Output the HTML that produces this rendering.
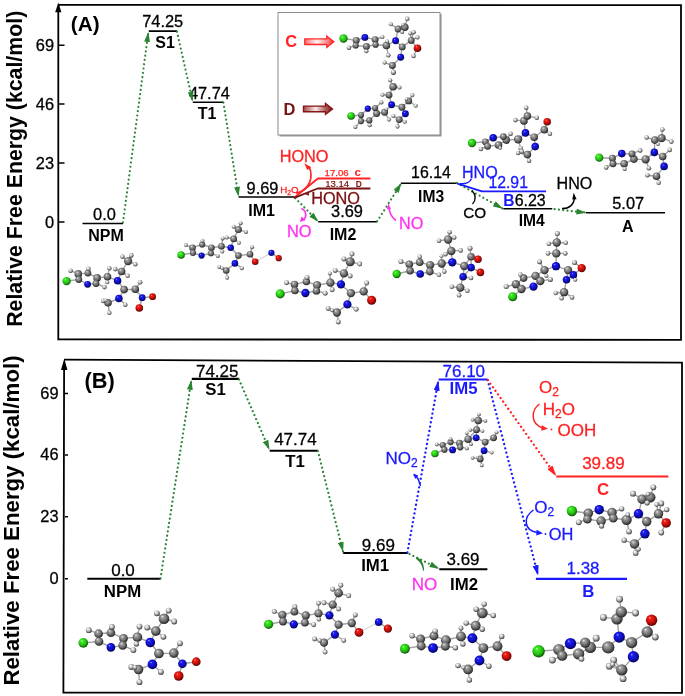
<!DOCTYPE html>
<html><head><meta charset="utf-8">
<style>
html,body{margin:0;padding:0;background:#fff;}
svg{display:block;font-family:"Liberation Sans",sans-serif;will-change:transform;}
.n{font-size:16.4px;fill:#000;}
.b{font-size:16px;font-weight:bold;fill:#000;}
#levelsB .n{font-size:17px}
#levelsB .b{font-size:16.8px}
#frameB .n{font-size:16.4px}
.lv{stroke:#000;stroke-width:1.6;fill:none;}
.gd{stroke:#2b8432;stroke-width:2.2;fill:none;stroke-dasharray:0.01 4.3;stroke-linecap:round;}
.bd{stroke:#1a1aff;stroke-width:2.3;fill:none;stroke-dasharray:0.01 4.4;stroke-linecap:round;}
.rd{stroke:#ff2222;stroke-width:2.3;fill:none;stroke-dasharray:0.01 4.4;stroke-linecap:round;}
#levelsB path{stroke-width:2.1}
</style></head>
<body>
<svg width="685" height="696" viewBox="0 0 685 696">
<defs>
<radialGradient id="gC" cx="0.46" cy="0.44" r="0.62" fx="0.34" fy="0.28"><stop offset="0" stop-color="#f6f6f6"/><stop offset="0.18" stop-color="#a8a8a8"/><stop offset="0.58" stop-color="#6c6c6c"/><stop offset="0.84" stop-color="#343434"/><stop offset="1" stop-color="#0c0c0c"/></radialGradient>
<radialGradient id="gH" cx="0.46" cy="0.44" r="0.62" fx="0.34" fy="0.28"><stop offset="0" stop-color="#ffffff"/><stop offset="0.25" stop-color="#e6e6e6"/><stop offset="0.56" stop-color="#aaaaaa"/><stop offset="0.83" stop-color="#505050"/><stop offset="1" stop-color="#1a1a1a"/></radialGradient>
<radialGradient id="gN" cx="0.46" cy="0.44" r="0.62" fx="0.34" fy="0.28"><stop offset="0" stop-color="#b0b0ff"/><stop offset="0.18" stop-color="#2020f8"/><stop offset="0.6" stop-color="#0e0ec0"/><stop offset="0.85" stop-color="#06066c"/><stop offset="1" stop-color="#000030"/></radialGradient>
<radialGradient id="gO" cx="0.46" cy="0.44" r="0.62" fx="0.34" fy="0.28"><stop offset="0" stop-color="#ffb0a8"/><stop offset="0.18" stop-color="#f62014"/><stop offset="0.6" stop-color="#c00e0a"/><stop offset="0.85" stop-color="#6c0604"/><stop offset="1" stop-color="#300000"/></radialGradient>
<radialGradient id="gL" cx="0.46" cy="0.44" r="0.62" fx="0.34" fy="0.28"><stop offset="0" stop-color="#d0ffc4"/><stop offset="0.18" stop-color="#38f01e"/><stop offset="0.6" stop-color="#26c014"/><stop offset="0.85" stop-color="#126c08"/><stop offset="1" stop-color="#063000"/></radialGradient>
<linearGradient id="arC" x1="0" y1="0" x2="1" y2="0"><stop offset="0" stop-color="#ff7070"/><stop offset="0.42" stop-color="#fff2f2"/><stop offset="0.72" stop-color="#ff9a9a"/><stop offset="1" stop-color="#ff2a2a"/></linearGradient>
<linearGradient id="arD" x1="0" y1="0" x2="1" y2="0"><stop offset="0" stop-color="#a84848"/><stop offset="0.42" stop-color="#f6eaea"/><stop offset="0.72" stop-color="#b46868"/><stop offset="1" stop-color="#7e1010"/></linearGradient>
<marker id="mg" viewBox="0 0 10 6" refX="9.5" refY="3" markerWidth="10.3" markerHeight="5.9" markerUnits="userSpaceOnUse" orient="auto"><path d="M0,0L10,3L0,6z" fill="#2b8432"/></marker>
<marker id="mb" viewBox="0 0 10 6" refX="9.5" refY="3" markerWidth="10.5" markerHeight="6.3" markerUnits="userSpaceOnUse" orient="auto"><path d="M0,0L10,3L0,6z" fill="#1a1aff"/></marker>
<marker id="mr" viewBox="0 0 10 6" refX="9.5" refY="3" markerWidth="10.5" markerHeight="6.3" markerUnits="userSpaceOnUse" orient="auto"><path d="M0,0L10,3L0,6z" fill="#ff2222"/></marker>
</defs>
<rect width="685" height="696" fill="#fff"/>

<!-- ================= PANEL A FRAME ================= -->
<g id="frameA">
<path d="M58.3,10 V339.3 L681,339.9 V5.2 L58.3,4.85" fill="none" stroke="#000" stroke-width="1.8"/>
<path d="M58.3,2.5 L55.2,12.3 H61.4 z" fill="#000"/>
<path d="M59,45.2h5.5M59,104h5.5M59,163h5.5M59,222h5.5" stroke="#000" stroke-width="1.5"/>
<text class="n" x="54" y="50.8" text-anchor="end" stroke="#000" stroke-width="0.28">69</text>
<text class="n" x="54" y="109.6" text-anchor="end" stroke="#000" stroke-width="0.28">46</text>
<text class="n" x="54" y="168.6" text-anchor="end" stroke="#000" stroke-width="0.28">23</text>
<text class="n" x="54" y="227.6" text-anchor="end" stroke="#000" stroke-width="0.28">0</text>
<text transform="translate(22.3,326.8) rotate(-90)" font-size="21.3" font-weight="bold">Relative Free Energy (kcal/mol)</text>
<text x="70.8" y="30.8" font-size="20.7" font-weight="bold">(A)</text>
</g>

<!-- ================= PANEL A LEVELS ================= -->
<g id="levelsA">
<path class="lv" d="M82.5,223.5H123M148.8,31.1H177M192.8,102.2H223.4M238.6,197H295M318.2,221.8H377M400.9,183.3H457.4M503.3,208.8H552.3M586,212.8H665"/>
<text class="n" x="104.5" y="220" text-anchor="middle" stroke="#000" stroke-width="0.28">0.0</text>
<text class="b" x="106" y="240.5" text-anchor="middle">NPM</text>
<text class="n" x="162.7" y="27.2" text-anchor="middle" stroke="#000" stroke-width="0.28">74.25</text>
<text class="b" x="165" y="48" text-anchor="middle">S1</text>
<text class="n" x="209.4" y="98.5" text-anchor="middle" stroke="#000" stroke-width="0.28">47.74</text>
<text class="b" x="207" y="118.5" text-anchor="middle">T1</text>
<text class="n" x="262.5" y="194.3" text-anchor="middle" stroke="#000" stroke-width="0.28">9.69</text>
<text class="b" x="261.6" y="215.6" text-anchor="middle">IM1</text>
<text class="n" x="347" y="217" text-anchor="middle" stroke="#000" stroke-width="0.28">3.69</text>
<text class="b" x="343" y="240" text-anchor="middle">IM2</text>
<text class="n" x="431" y="178.4" text-anchor="middle" style="font-size:15.9px" stroke="#000" stroke-width="0.28">16.14</text>
<text class="b" x="431.1" y="201.8" text-anchor="middle" style="font-size:15.6px">IM3</text>
<text class="n" x="530.2" y="206.2" text-anchor="middle" style="font-size:16px" stroke="#000" stroke-width="0.28">6.23</text>
<text class="b" x="531.7" y="225.6" text-anchor="middle" style="font-size:15.6px">IM4</text>
<text class="n" x="628.2" y="209" text-anchor="middle" stroke="#000" stroke-width="0.28">5.07</text>
<text class="b" x="627.8" y="232" text-anchor="middle">A</text>
<text class="b" x="509" y="206.2" text-anchor="middle" style="fill:#1a1aff;font-size:15.6px">B</text>
</g>

<!-- ================= PANEL A ARROWS ================= -->
<g id="arrowsA">
<path class="gd" d="M123,222.3L148.3,32.6" marker-end="url(#mg)"/>
<path class="gd" d="M177,31.7L192.6,101" marker-end="url(#mg)"/>
<path class="gd" d="M223.4,102.6L238.5,196.2" marker-end="url(#mg)"/>
<path class="gd" d="M295.3,198.1L318,221.4" marker-end="url(#mg)"/>
<path class="gd" d="M377.2,221.2L401.2,183.5" marker-end="url(#mg)"/>
<path class="gd" d="M457,183L502.5,208.5" marker-end="url(#mg)"/>
<path class="gd" d="M554.6,209.2L585.8,212.6" marker-end="url(#mg)"/>
<!-- red C branch -->
<path d="M294.3,197.6L317.9,178.5H370.4" fill="none" stroke="#ff2222" stroke-width="1.8" stroke-linejoin="round"/>
<path d="M296,193.2C305,191.5 310.8,184 311,175.5C311,171.5 310.3,168.8 308.8,166.6" fill="none" stroke="#ff2222" stroke-width="1.7"/>
<path d="M304.3,163.2L311.2,167.2 307.2,170z" fill="#ff2222"/>
<!-- dark red D branch -->
<path d="M294.3,197.8L317.6,188.5H370.4" fill="none" stroke="#7a1010" stroke-width="1.8" stroke-linejoin="round"/>
<path d="M305.2,194.2L309,192.8 308.8,195.8z" fill="#7a1010"/>
<text x="279.7" y="162" font-size="16.3" fill="#ff2222" stroke="#ff2222" stroke-width="0.28">HONO</text>
<text x="280.3" y="192.9" font-size="9.7" fill="#ff2222" stroke="#ff2222" stroke-width="0.3">H<tspan font-size="6.6" dy="2">2</tspan><tspan dy="-2">O</tspan></text>
<text x="324.6" y="175.8" font-size="9.6" fill="#ff2222" stroke="#ff2222" stroke-width="0.25">17.06<tspan font-weight="bold" dx="6" font-size="11.5" stroke="none">c</tspan></text>
<text x="325.2" y="186.6" font-size="9.6" fill="#7a1010" stroke="#7a1010" stroke-width="0.2">13.14<tspan font-weight="bold" dx="6.5" font-size="8.5" stroke="none">D</tspan></text>
<text x="311.2" y="204.3" font-size="16.3" fill="#7a1010" stroke="#7a1010" stroke-width="0.28">HONO</text>
<!-- magenta NO -->
<text x="287" y="237.3" font-size="16.4" fill="#ff30f0" stroke="#ff30f0" stroke-width="0.28">NO</text>
<path d="M301.2,208.6C306.5,210.5 307,216.5 303.6,219.6" fill="none" stroke="#ff30f0" stroke-width="1.6"/>
<path d="M299.9,222L301.6,216.6 305.8,220z" fill="#ff30f0"/>
<text x="399" y="229.4" font-size="16.2" fill="#ff30f0" stroke="#ff30f0" stroke-width="0.28">NO</text>
<path d="M389,207C389.3,213 392,217.6 395.8,220.5" fill="none" stroke="#ff30f0" stroke-width="1.6"/>
<path d="M388.4,203.6L386.8,209.2 391,209z" fill="#ff30f0"/>
<!-- blue B branch -->
<path d="M457.4,183.6L482,191.4H546.1" fill="none" stroke="#1a1aff" stroke-width="1.9" stroke-linejoin="round"/>
<text x="462" y="178" font-size="16.1" fill="#1a1aff" stroke="#1a1aff" stroke-width="0.28">HNO</text>
<path d="M460,183.8C466,184.2 470,182 471.5,178.8" fill="none" stroke="#1a1aff" stroke-width="1.5"/>
<text x="488.4" y="188.3" font-size="15.8" fill="#1a1aff" stroke="#1a1aff" stroke-width="0.28">12.91</text>
<text x="463.2" y="218.4" font-size="15.3" fill="#000" stroke="#000" stroke-width="0.28">CO</text>
<path d="M472,190.5C476,195 476,200 472.5,204" fill="none" stroke="#000" stroke-width="1.3"/>
<text x="556.6" y="189.2" font-size="16.1" fill="#000" stroke="#000" stroke-width="0.28">HNO</text>
<path d="M562,208.6C569,208.8 574,204.5 574.4,198" fill="none" stroke="#000" stroke-width="1.5"/>
<path d="M573.7,192.8L572.2,199.6 576.6,199.2z" fill="#000"/>
</g>

<!-- ================= INSET ================= -->
<g id="inset">
<rect x="279.6" y="14" width="162" height="122.5" fill="#9a9a9a"/>
<rect x="278" y="12.5" width="162" height="122.5" fill="#fff" stroke="#8c8c8c" stroke-width="1"/>
<text x="285.3" y="46.8" font-size="16.4" font-weight="bold" fill="#ff2222">C</text>
<path d="M304.8,38.9H326.8V36.2L333.8,41.7 326.8,47.2V44.5H304.8z" fill="url(#arC)" stroke="#ff2a2a" stroke-width="1.4" stroke-linejoin="miter"/>
<text x="283.6" y="114.6" font-size="16.4" font-weight="bold" fill="#7a1010">D</text>
<path d="M303.5,106.1H325.5V103.4L332.5,108.9 325.5,114.4V111.7H303.5z" fill="url(#arD)" stroke="#861414" stroke-width="1.4" stroke-linejoin="miter"/>
</g>

<!-- ================= PANEL B FRAME ================= -->
<g id="frameB">
<path d="M64.1,368 L63.4,692.5 L682,692.8 V362.7 L64.1,359.6" fill="none" stroke="#000" stroke-width="1.8"/>
<path d="M64.3,358.6 L61,369.9 H67.4 z" fill="#000"/>
<path d="M65,393.4h3M65,455h3M65,516.7h3M65,578.8h3" stroke="#000" stroke-width="1.5"/>
<text class="n" x="58.5" y="398.6" text-anchor="end" stroke="#000" stroke-width="0.28">69</text>
<text class="n" x="58.5" y="460.4" text-anchor="end" stroke="#000" stroke-width="0.28">46</text>
<text class="n" x="58.5" y="522.1" text-anchor="end" stroke="#000" stroke-width="0.28">23</text>
<text class="n" x="58.5" y="584.4" text-anchor="end" stroke="#000" stroke-width="0.28">0</text>
<text transform="translate(18.7,685.6) rotate(-90)" font-size="22.25" font-weight="bold">Relative Free Energy (kcal/mol)</text>
<text x="84.5" y="388.2" font-size="21.8" font-weight="bold">(B)</text>
</g>

<!-- ================= PANEL B LEVELS ================= -->
<g id="levelsB">
<path class="lv" d="M87.3,578.8H160.5M191.8,378.9H239M269.7,450.7H317.9M343.2,553H407.6M439.3,569.3H487.4"/>
<path d="M438.7,379.5H487.4M535.9,578.9H627" stroke="#1a1aff" stroke-width="1.7" fill="none"/>
<path d="M556.3,476.5H668.4" stroke="#ff2222" stroke-width="1.7" fill="none"/>
<text class="n" x="123" y="576" text-anchor="middle" stroke="#000" stroke-width="0.28">0.0</text>
<text class="b" x="122.5" y="596.5" text-anchor="middle">NPM</text>
<text class="n" x="217.2" y="377" text-anchor="middle" stroke="#000" stroke-width="0.28">74.25</text>
<text class="b" x="215.5" y="395.3" text-anchor="middle">S1</text>
<text class="n" x="295.4" y="445" text-anchor="middle" stroke="#000" stroke-width="0.28">47.74</text>
<text class="b" x="295" y="466.8" text-anchor="middle">T1</text>
<text class="n" x="378.4" y="550.7" text-anchor="middle" stroke="#000" stroke-width="0.28">9.69</text>
<text class="b" x="375.2" y="571" text-anchor="middle">IM1</text>
<text class="n" x="463" y="565.3" text-anchor="middle" stroke="#000" stroke-width="0.28">3.69</text>
<text class="b" x="464" y="589.5" text-anchor="middle">IM2</text>
<text class="n" x="463.8" y="376.9" text-anchor="middle" style="fill:#1a1aff" stroke="#1a1aff" stroke-width="0.28">76.10</text>
<text class="b" x="463.5" y="394.4" text-anchor="middle" style="fill:#1a1aff">IM5</text>
<text class="n" x="603.4" y="468.6" text-anchor="middle" style="fill:#ff2222" stroke="#ff2222" stroke-width="0.28">39.89</text>
<text class="b" x="603" y="495" text-anchor="middle" style="fill:#ff2222">C</text>
<text class="n" x="583" y="574" text-anchor="middle" style="fill:#1a1aff" stroke="#1a1aff" stroke-width="0.28">1.38</text>
<text class="b" x="588.2" y="596.8" text-anchor="middle" style="fill:#1a1aff">B</text>
</g>

<!-- ================= PANEL B ARROWS ================= -->
<g id="arrowsB">
<path class="gd" d="M160.5,578.3L191.3,380.5" marker-end="url(#mg)"/>
<path class="gd" d="M239,379.5L269.3,449.5" marker-end="url(#mg)"/>
<path class="gd" d="M317.9,451L343,551.5" marker-end="url(#mg)"/>
<path class="gd" d="M409.5,554L438.8,568.6" marker-end="url(#mg)"/>
<path d="M416.5,557.6C421,559 423.6,563.5 423.6,570.5C422.6,565 420,561 416.5,559z" fill="#2b7a30" stroke="#2b7a30" stroke-width="0.8" stroke-linejoin="round"/>
<path class="bd" d="M407.4,552.5L438.3,381" marker-end="url(#mb)"/>
<path class="bd" d="M487.6,380L538,575" marker-end="url(#mb)"/>
<path class="rd" d="M487.8,380L555.8,475.5" marker-end="url(#mr)"/>
<text x="385.5" y="464" font-size="17" fill="#1a1aff" stroke="#1a1aff" stroke-width="0.28">NO<tspan font-size="12" dy="3">2</tspan></text>
<path d="M414,474.5C417,476 419,480 420.5,486" fill="none" stroke="#1a1aff" stroke-width="1.4"/>
<path d="M413,474L418.2,475.2 415.5,479z" fill="#1a1aff"/>
<text x="411.8" y="590.4" font-size="17" fill="#ff30f0" stroke="#ff30f0" stroke-width="0.28">NO</text>
<!-- red O2 / H2O / OOH -->
<text x="539" y="393" font-size="17" fill="#ff2222" stroke="#ff2222" stroke-width="0.28">O<tspan font-size="12" dy="3">2</tspan></text>
<text x="542.8" y="415" font-size="17" fill="#ff2222" stroke="#ff2222" stroke-width="0.28">H<tspan font-size="12" dy="3">2</tspan><tspan dy="-3">O</tspan></text>
<text x="557.5" y="436" font-size="17" fill="#ff2222" stroke="#ff2222" stroke-width="0.28">OOH</text>
<circle cx="551.5" cy="429.5" r="0.9" fill="#ff2222"/>
<path d="M539.5,404C531,410 530,424 543,428" fill="none" stroke="#ff2222" stroke-width="1.5"/>
<path d="M548,428.8L541.8,425.2 541.2,430.8z" fill="#ff2222"/>
<!-- blue O2 / OH -->
<text x="534.3" y="512.5" font-size="17" fill="#1a1aff" stroke="#1a1aff" stroke-width="0.28">O<tspan font-size="12" dy="3">2</tspan></text>
<text x="548.8" y="540.3" font-size="16.4" fill="#1a1aff" stroke="#1a1aff" stroke-width="0.28">OH</text>
<circle cx="545.5" cy="534" r="0.9" fill="#1a1aff"/>
<path d="M533.5,510C523,517 523.5,530 537,532.5" fill="none" stroke="#1a1aff" stroke-width="1.5"/>
<path d="M543,533.3L536.6,529.8 536.2,535.4z" fill="#1a1aff"/>
</g>

<!-- MOLECULES -->
<g id="mols">
<g id="A_NPM"><path d="M66.6,281.1L78.8,279.5M78.3,273.9L87.9,273.1M78.8,279.5L78.3,273.9M87.9,273.1L97.1,277.9M97.1,277.9L96.0,283.5M97.1,277.9L107.5,276.8M96.0,283.5L87.6,284.3M87.6,284.3L78.8,279.5M70.6,270.7L78.3,273.9M88.4,268.8L87.9,273.1M104.5,287.1L96.0,283.5M107.5,276.8L117.6,280.7M109.3,268.3L107.5,276.8M107.2,282.3L107.5,276.8M117.6,280.7L121.6,271.5M117.6,280.7L124.1,289.6M121.6,271.5L128.1,261.1M115.2,269.1L121.6,271.5M127.6,275.8L121.6,271.5M122.4,256.6L128.1,261.1M131.3,255.4L128.1,261.1M135.3,264.3L128.1,261.1M124.1,289.6L135.3,289.2M124.1,289.6L118.9,298.5M135.3,289.2L142.2,297.7M140.1,282.3L135.3,289.2M152.6,296.7L142.2,297.7M139.3,308.0L142.2,297.7M118.9,298.5L108.0,302.8M125.3,304.7L118.9,298.5M103.2,300.9L108.0,302.8M109.3,312.8L108.0,302.8M105.6,300.4L108.0,302.8" stroke="#a2a2a2" stroke-width="1.4" fill="none"/><circle cx="66.6" cy="281.1" r="4.17" fill="url(#gL)"/><circle cx="78.3" cy="273.9" r="3.79" fill="url(#gC)"/><circle cx="78.8" cy="279.5" r="3.41" fill="url(#gC)"/><circle cx="87.9" cy="273.1" r="3.41" fill="url(#gC)"/><circle cx="97.1" cy="277.9" r="3.79" fill="url(#gC)"/><circle cx="96.0" cy="283.5" r="3.41" fill="url(#gC)"/><circle cx="87.6" cy="284.3" r="3.41" fill="url(#gN)"/><circle cx="107.5" cy="276.8" r="3.79" fill="url(#gC)"/><circle cx="117.6" cy="280.7" r="3.79" fill="url(#gN)"/><circle cx="121.6" cy="271.5" r="3.79" fill="url(#gC)"/><circle cx="128.1" cy="261.1" r="4.17" fill="url(#gC)"/><circle cx="124.1" cy="289.6" r="3.79" fill="url(#gC)"/><circle cx="135.3" cy="289.2" r="3.79" fill="url(#gC)"/><circle cx="142.2" cy="297.7" r="3.41" fill="url(#gN)"/><circle cx="152.6" cy="296.7" r="3.41" fill="url(#gO)"/><circle cx="139.3" cy="308.0" r="3.79" fill="url(#gO)"/><circle cx="118.9" cy="298.5" r="3.79" fill="url(#gN)"/><circle cx="108.0" cy="302.8" r="3.79" fill="url(#gC)"/><circle cx="70.6" cy="270.7" r="2.28" fill="url(#gH)"/><circle cx="88.4" cy="268.8" r="2.28" fill="url(#gH)"/><circle cx="104.5" cy="287.1" r="2.28" fill="url(#gH)"/><circle cx="109.3" cy="268.3" r="2.28" fill="url(#gH)"/><circle cx="107.2" cy="282.3" r="2.05" fill="url(#gH)"/><circle cx="115.2" cy="269.1" r="2.28" fill="url(#gH)"/><circle cx="127.6" cy="275.8" r="2.28" fill="url(#gH)"/><circle cx="122.4" cy="256.6" r="2.28" fill="url(#gH)"/><circle cx="131.3" cy="255.4" r="2.28" fill="url(#gH)"/><circle cx="135.3" cy="264.3" r="2.28" fill="url(#gH)"/><circle cx="140.1" cy="282.3" r="2.28" fill="url(#gH)"/><circle cx="125.3" cy="304.7" r="2.28" fill="url(#gH)"/><circle cx="103.2" cy="300.9" r="2.28" fill="url(#gH)"/><circle cx="109.3" cy="312.8" r="2.28" fill="url(#gH)"/><circle cx="105.6" cy="300.4" r="1.82" fill="url(#gH)"/></g>
<g id="A_IM1"><path d="M181.1,255.0L193.0,252.9M192.5,247.7L202.2,244.5M193.0,252.9L192.5,247.7M202.2,244.5L211.4,247.7M211.4,247.7L210.9,253.3M211.4,247.7L221.4,246.3M210.9,253.3L201.6,255.6M201.6,255.6L193.0,252.9M185.9,245.1L192.5,247.7M202.5,240.7L202.2,244.5M217.9,255.9L210.9,253.3M221.4,246.3L230.7,247.7M222.7,238.4L221.4,246.3M222.3,251.5L221.4,246.3M230.7,247.7L233.7,238.9M230.7,247.7L238.4,255.6M233.7,238.9L238.4,229.6M226.7,237.5L233.7,238.9M238.9,242.8L233.7,238.9M233.7,226.7L238.4,229.6M240.7,223.2L238.4,229.6M246.0,231.9L238.4,229.6M238.4,255.6L250.0,254.2M238.4,255.6L234.9,263.4M252.1,247.2L250.0,254.2M255.2,261.7L250.0,254.2M278.7,258.2L271.4,252.9M234.9,263.4L226.2,270.5M241.9,268.2L234.9,263.4M219.3,267.0L226.2,270.5M227.2,277.8L226.2,270.5M222.3,268.2L226.2,270.5" stroke="#a2a2a2" stroke-width="1.4" fill="none"/><path d="M255.2,261.7L271.4,252.9" stroke="#aaa" stroke-width="0.6" fill="none"/><circle cx="181.1" cy="255.0" r="3.72" fill="url(#gL)"/><circle cx="192.5" cy="247.7" r="3.31" fill="url(#gC)"/><circle cx="193.0" cy="252.9" r="3.10" fill="url(#gC)"/><circle cx="202.2" cy="244.5" r="3.10" fill="url(#gC)"/><circle cx="211.4" cy="247.7" r="3.31" fill="url(#gC)"/><circle cx="210.9" cy="253.3" r="3.10" fill="url(#gC)"/><circle cx="201.6" cy="255.6" r="3.10" fill="url(#gN)"/><circle cx="221.4" cy="246.3" r="3.31" fill="url(#gC)"/><circle cx="230.7" cy="247.7" r="3.31" fill="url(#gN)"/><circle cx="233.7" cy="238.9" r="3.31" fill="url(#gC)"/><circle cx="238.4" cy="229.6" r="3.51" fill="url(#gC)"/><circle cx="238.4" cy="255.6" r="3.31" fill="url(#gC)"/><circle cx="250.0" cy="254.2" r="3.31" fill="url(#gC)"/><circle cx="255.2" cy="261.7" r="3.31" fill="url(#gO)"/><circle cx="271.4" cy="252.9" r="3.10" fill="url(#gN)"/><circle cx="278.7" cy="258.2" r="3.10" fill="url(#gO)"/><circle cx="234.9" cy="263.4" r="3.31" fill="url(#gN)"/><circle cx="226.2" cy="270.5" r="3.31" fill="url(#gC)"/><circle cx="185.9" cy="245.1" r="1.99" fill="url(#gH)"/><circle cx="202.5" cy="240.7" r="1.99" fill="url(#gH)"/><circle cx="217.9" cy="255.9" r="1.99" fill="url(#gH)"/><circle cx="222.7" cy="238.4" r="1.99" fill="url(#gH)"/><circle cx="222.3" cy="251.5" r="1.99" fill="url(#gH)"/><circle cx="226.7" cy="237.5" r="1.99" fill="url(#gH)"/><circle cx="238.9" cy="242.8" r="1.99" fill="url(#gH)"/><circle cx="233.7" cy="226.7" r="1.99" fill="url(#gH)"/><circle cx="240.7" cy="223.2" r="1.99" fill="url(#gH)"/><circle cx="246.0" cy="231.9" r="1.99" fill="url(#gH)"/><circle cx="252.1" cy="247.2" r="1.99" fill="url(#gH)"/><circle cx="241.9" cy="268.2" r="1.99" fill="url(#gH)"/><circle cx="219.3" cy="267.0" r="1.99" fill="url(#gH)"/><circle cx="227.2" cy="277.8" r="1.99" fill="url(#gH)"/><circle cx="222.3" cy="268.2" r="1.74" fill="url(#gH)"/></g>
<g id="A_IM2"><path d="M280.2,293.9L294.9,290.6M294.5,284.4L306.4,281.6M294.9,290.6L294.5,284.4M306.4,281.6L317.0,285.1M317.0,285.1L316.4,290.9M317.0,285.1L330.4,282.7M316.4,290.9L305.4,293.0M305.4,293.0L294.9,290.6M286.6,282.7L294.5,284.4M307.1,277.4L306.4,281.6M325.2,293.2L316.4,290.9M330.4,282.7L341.0,284.4M332.2,289.7L330.4,282.7M329.9,273.4L330.4,282.7M341.0,284.4L343.9,273.4M341.0,284.4L350.9,293.2M343.9,273.4L350.2,261.7M335.2,270.4L343.9,273.4M350.2,276.0L343.9,273.4M343.9,258.9L350.2,261.7M352.0,254.1L350.2,261.7M359.7,264.1L350.2,261.7M350.9,293.2L363.7,291.4M350.9,293.2L347.4,304.4M366.7,283.0L363.7,291.4M371.6,300.2L363.7,291.4M347.4,304.4L336.9,312.5M356.2,309.3L347.4,304.4M328.2,308.4L336.9,312.5M338.3,321.9L336.9,312.5M332.2,310.2L336.9,312.5" stroke="#a2a2a2" stroke-width="1.4" fill="none"/><circle cx="280.2" cy="293.9" r="4.55" fill="url(#gL)"/><circle cx="294.5" cy="284.4" r="3.72" fill="url(#gC)"/><circle cx="294.9" cy="290.6" r="3.72" fill="url(#gC)"/><circle cx="306.4" cy="281.6" r="3.72" fill="url(#gC)"/><circle cx="317.0" cy="285.1" r="4.13" fill="url(#gC)"/><circle cx="316.4" cy="290.9" r="3.72" fill="url(#gC)"/><circle cx="305.4" cy="293.0" r="4.13" fill="url(#gN)"/><circle cx="330.4" cy="282.7" r="4.13" fill="url(#gC)"/><circle cx="341.0" cy="284.4" r="4.13" fill="url(#gN)"/><circle cx="343.9" cy="273.4" r="4.13" fill="url(#gC)"/><circle cx="350.2" cy="261.7" r="4.55" fill="url(#gC)"/><circle cx="350.9" cy="293.2" r="4.13" fill="url(#gC)"/><circle cx="363.7" cy="291.4" r="4.13" fill="url(#gC)"/><circle cx="371.6" cy="300.2" r="4.55" fill="url(#gO)"/><circle cx="347.4" cy="304.4" r="4.13" fill="url(#gN)"/><circle cx="336.9" cy="312.5" r="4.13" fill="url(#gC)"/><circle cx="286.6" cy="282.7" r="2.49" fill="url(#gH)"/><circle cx="307.1" cy="277.4" r="2.49" fill="url(#gH)"/><circle cx="325.2" cy="293.2" r="2.49" fill="url(#gH)"/><circle cx="332.2" cy="289.7" r="2.49" fill="url(#gH)"/><circle cx="329.9" cy="273.4" r="1.99" fill="url(#gH)"/><circle cx="335.2" cy="270.4" r="2.49" fill="url(#gH)"/><circle cx="350.2" cy="276.0" r="2.49" fill="url(#gH)"/><circle cx="343.9" cy="258.9" r="2.49" fill="url(#gH)"/><circle cx="352.0" cy="254.1" r="2.49" fill="url(#gH)"/><circle cx="359.7" cy="264.1" r="2.49" fill="url(#gH)"/><circle cx="366.7" cy="283.0" r="2.49" fill="url(#gH)"/><circle cx="356.2" cy="309.3" r="2.49" fill="url(#gH)"/><circle cx="328.2" cy="308.4" r="2.49" fill="url(#gH)"/><circle cx="338.3" cy="321.9" r="2.49" fill="url(#gH)"/><circle cx="332.2" cy="310.2" r="1.99" fill="url(#gH)"/></g>
<g id="IN_C"><path d="M343.5,38.5L356.2,40.4M356.2,40.4L364.9,37.4M355.7,45.5L356.2,40.4M366.4,46.5L355.7,45.5M375.1,39.6L375.6,44.7M375.6,44.7L366.4,46.5M375.6,44.7L386.4,45.5M364.9,37.4L375.1,39.6M348.9,47.7L355.7,45.5M366.4,51.2L366.4,46.5M382.4,37.0L375.1,39.6M386.4,45.5L395.6,40.7M387.3,41.4L386.4,45.5M388.3,55.3L386.4,45.5M395.6,40.7L398.1,29.0M395.6,40.7L402.2,46.9M398.1,29.0L404.8,27.2M390.9,24.3L398.1,29.0M407.3,18.8L404.8,27.2M402.2,31.9L398.1,29.0M402.9,24.6L404.8,27.2M402.2,46.9L411.2,40.4M402.2,46.9L400.7,57.2M413.5,32.2L411.2,40.4M417.5,37.4L411.2,40.4M410.2,33.4L411.2,40.4M417.5,48.2L411.2,40.4M413.5,56.0L417.5,48.2M400.7,57.2L392.4,65.5M384.6,62.6L392.4,65.5M393.4,72.8L392.4,65.5" stroke="#a2a2a2" stroke-width="1.4" fill="none"/><circle cx="343.5" cy="38.5" r="4.13" fill="url(#gL)"/><circle cx="356.2" cy="40.4" r="3.45" fill="url(#gC)"/><circle cx="355.7" cy="45.5" r="3.10" fill="url(#gC)"/><circle cx="366.4" cy="46.5" r="3.45" fill="url(#gC)"/><circle cx="375.1" cy="39.6" r="3.45" fill="url(#gC)"/><circle cx="375.6" cy="44.7" r="3.10" fill="url(#gC)"/><circle cx="364.9" cy="37.4" r="3.45" fill="url(#gN)"/><circle cx="386.4" cy="45.5" r="3.79" fill="url(#gC)"/><circle cx="395.6" cy="40.7" r="3.45" fill="url(#gN)"/><circle cx="398.1" cy="29.0" r="3.45" fill="url(#gC)"/><circle cx="404.8" cy="27.2" r="3.79" fill="url(#gC)"/><circle cx="402.2" cy="46.9" r="3.45" fill="url(#gC)"/><circle cx="411.2" cy="40.4" r="3.45" fill="url(#gC)"/><circle cx="417.5" cy="48.2" r="3.79" fill="url(#gO)"/><circle cx="400.7" cy="57.2" r="3.45" fill="url(#gN)"/><circle cx="392.4" cy="65.5" r="3.45" fill="url(#gC)"/><circle cx="348.9" cy="47.7" r="2.28" fill="url(#gH)"/><circle cx="366.4" cy="51.2" r="2.07" fill="url(#gH)"/><circle cx="382.4" cy="37.0" r="2.07" fill="url(#gH)"/><circle cx="387.3" cy="41.4" r="1.87" fill="url(#gH)"/><circle cx="388.3" cy="55.3" r="2.28" fill="url(#gH)"/><circle cx="390.9" cy="24.3" r="2.07" fill="url(#gH)"/><circle cx="407.3" cy="18.8" r="2.28" fill="url(#gH)"/><circle cx="402.2" cy="31.9" r="2.07" fill="url(#gH)"/><circle cx="402.9" cy="24.6" r="1.87" fill="url(#gH)"/><circle cx="413.5" cy="32.2" r="2.28" fill="url(#gH)"/><circle cx="417.5" cy="37.4" r="2.07" fill="url(#gH)"/><circle cx="410.2" cy="33.4" r="1.87" fill="url(#gH)"/><circle cx="413.5" cy="56.0" r="2.28" fill="url(#gH)"/><circle cx="384.6" cy="62.6" r="2.07" fill="url(#gH)"/><circle cx="393.4" cy="72.8" r="2.28" fill="url(#gH)"/></g>
<g id="IN_D"><path d="M351.1,116.0L361.0,115.0M361.0,115.0L367.8,108.7M361.0,121.1L361.0,115.0M369.3,120.4L361.0,121.1M376.6,113.5L369.3,120.4M376.6,113.5L384.6,112.3M375.1,108.0L376.6,113.5M367.8,108.7L375.1,108.0M355.4,126.9L361.0,121.1M369.7,125.2L369.3,120.4M381.4,102.4L375.1,108.0M384.6,112.3L391.6,104.7M389.0,119.6L384.6,112.3M386.4,109.1L384.6,112.3M391.6,104.7L389.0,95.1M391.6,104.7L401.9,107.2M389.0,95.1L393.1,86.8M382.4,94.8L389.0,95.1M390.2,80.2L393.1,86.8M399.5,87.5L393.1,86.8M401.9,107.2L408.7,100.9M401.9,107.2L405.4,113.8M412.4,95.1L408.7,100.9M415.7,105.8L408.7,100.9M406.5,99.2L408.7,100.9M405.4,113.8L399.2,119.6M393.4,116.0L399.2,119.6M404.8,121.8L399.2,119.6M397.5,126.6L399.2,119.6" stroke="#a2a2a2" stroke-width="1.4" fill="none"/><circle cx="351.1" cy="116.0" r="3.79" fill="url(#gL)"/><circle cx="361.0" cy="115.0" r="3.10" fill="url(#gC)"/><circle cx="361.0" cy="121.1" r="3.10" fill="url(#gC)"/><circle cx="369.3" cy="120.4" r="3.10" fill="url(#gC)"/><circle cx="376.6" cy="113.5" r="3.45" fill="url(#gC)"/><circle cx="375.1" cy="108.0" r="3.10" fill="url(#gC)"/><circle cx="367.8" cy="108.7" r="3.10" fill="url(#gN)"/><circle cx="384.6" cy="112.3" r="3.45" fill="url(#gC)"/><circle cx="391.6" cy="104.7" r="3.45" fill="url(#gN)"/><circle cx="389.0" cy="95.1" r="3.45" fill="url(#gC)"/><circle cx="393.1" cy="86.8" r="3.79" fill="url(#gC)"/><circle cx="401.9" cy="107.2" r="3.45" fill="url(#gC)"/><circle cx="408.7" cy="100.9" r="3.45" fill="url(#gC)"/><circle cx="405.4" cy="113.8" r="3.45" fill="url(#gN)"/><circle cx="399.2" cy="119.6" r="3.45" fill="url(#gC)"/><circle cx="355.4" cy="126.9" r="2.07" fill="url(#gH)"/><circle cx="369.7" cy="125.2" r="2.07" fill="url(#gH)"/><circle cx="381.4" cy="102.4" r="2.07" fill="url(#gH)"/><circle cx="389.0" cy="119.6" r="2.07" fill="url(#gH)"/><circle cx="386.4" cy="109.1" r="1.66" fill="url(#gH)"/><circle cx="382.4" cy="94.8" r="2.07" fill="url(#gH)"/><circle cx="390.2" cy="80.2" r="2.07" fill="url(#gH)"/><circle cx="399.5" cy="87.5" r="2.07" fill="url(#gH)"/><circle cx="393.4" cy="72.2" r="2.49" fill="url(#gH)"/><circle cx="412.4" cy="95.1" r="2.07" fill="url(#gH)"/><circle cx="415.7" cy="105.8" r="2.07" fill="url(#gH)"/><circle cx="406.5" cy="99.2" r="1.66" fill="url(#gH)"/><circle cx="393.4" cy="116.0" r="2.07" fill="url(#gH)"/><circle cx="404.8" cy="121.8" r="2.07" fill="url(#gH)"/><circle cx="397.5" cy="126.6" r="2.07" fill="url(#gH)"/></g>
<g id="A_B"><path d="M472.0,143.0L485.4,141.8M485.4,141.8L493.2,137.7M487.6,146.3L485.4,141.8M498.5,145.0L487.6,146.3M506.3,140.1L498.5,145.0M506.3,140.1L518.1,139.3M503.4,136.6L506.3,140.1M493.2,137.7L503.4,136.6M480.9,149.0L487.6,146.3M500.1,147.9L498.5,145.0M510.6,133.7L506.3,140.1M518.1,139.3L525.5,132.9M520.7,148.2L518.1,139.3M518.1,153.0L527.4,154.6M525.5,132.9L523.9,120.9M525.5,132.9L534.2,137.3M523.9,120.9L527.4,116.1M515.4,120.1L523.9,120.9M526.2,107.7L527.4,116.1M536.8,117.7L527.4,116.1M534.2,137.3L544.3,129.7M534.2,137.3L535.2,146.6M549.9,133.7L544.3,129.7M547.2,121.7L544.3,129.7M535.2,146.6L527.4,154.6M521.8,151.4L527.4,154.6M529.1,160.7L527.4,154.6" stroke="#a2a2a2" stroke-width="1.4" fill="none"/><circle cx="472.0" cy="143.0" r="4.17" fill="url(#gL)"/><circle cx="485.4" cy="141.8" r="3.41" fill="url(#gC)"/><circle cx="487.6" cy="146.3" r="3.41" fill="url(#gC)"/><circle cx="498.5" cy="145.0" r="3.79" fill="url(#gC)"/><circle cx="506.3" cy="140.1" r="3.79" fill="url(#gC)"/><circle cx="503.4" cy="136.6" r="3.41" fill="url(#gC)"/><circle cx="493.2" cy="137.7" r="3.79" fill="url(#gN)"/><circle cx="518.1" cy="139.3" r="4.17" fill="url(#gC)"/><circle cx="525.5" cy="132.9" r="3.79" fill="url(#gN)"/><circle cx="523.9" cy="120.9" r="3.79" fill="url(#gC)"/><circle cx="527.4" cy="116.1" r="3.79" fill="url(#gC)"/><circle cx="534.2" cy="137.3" r="3.79" fill="url(#gC)"/><circle cx="544.3" cy="129.7" r="3.79" fill="url(#gC)"/><circle cx="547.2" cy="121.7" r="3.79" fill="url(#gO)"/><circle cx="535.2" cy="146.6" r="3.79" fill="url(#gN)"/><circle cx="527.4" cy="154.6" r="3.79" fill="url(#gC)"/><circle cx="480.9" cy="149.0" r="2.28" fill="url(#gH)"/><circle cx="500.1" cy="147.9" r="1.82" fill="url(#gH)"/><circle cx="510.6" cy="133.7" r="2.28" fill="url(#gH)"/><circle cx="520.7" cy="148.2" r="2.28" fill="url(#gH)"/><circle cx="518.1" cy="153.0" r="2.28" fill="url(#gH)"/><circle cx="515.4" cy="120.1" r="2.28" fill="url(#gH)"/><circle cx="526.2" cy="107.7" r="2.28" fill="url(#gH)"/><circle cx="536.8" cy="117.7" r="2.28" fill="url(#gH)"/><circle cx="549.9" cy="133.7" r="2.28" fill="url(#gH)"/><circle cx="521.8" cy="151.4" r="2.28" fill="url(#gH)"/><circle cx="529.1" cy="160.7" r="2.28" fill="url(#gH)"/></g>
<g id="A_A"><path d="M599.2,157.7L612.4,158.2M612.4,158.2L621.8,153.6M613.0,163.8L612.4,158.2M624.1,163.8L613.0,163.8M633.9,159.1L624.1,163.8M633.9,159.1L645.6,159.4M632.0,153.9L633.9,159.1M621.8,153.6L632.0,153.9M606.2,167.4L613.0,163.8M624.7,168.9L624.1,163.8M640.2,150.4L632.0,153.9M645.6,159.4L654.3,152.4M648.9,168.2L645.6,159.4M647.5,175.2L656.5,176.2M654.3,152.4L654.8,140.1M654.3,152.4L662.7,156.5M654.8,140.1L661.6,138.2M646.6,137.5L654.8,140.1M662.4,129.5L661.6,138.2M671.4,141.6L661.6,138.2M658.0,144.1L654.8,140.1M662.7,156.5L664.1,166.4M669.7,149.9L662.7,156.5M664.1,166.4L656.5,176.2M658.7,182.8L656.5,176.2" stroke="#a2a2a2" stroke-width="1.4" fill="none"/><circle cx="599.2" cy="157.7" r="4.13" fill="url(#gL)"/><circle cx="612.4" cy="158.2" r="3.45" fill="url(#gC)"/><circle cx="613.0" cy="163.8" r="3.45" fill="url(#gC)"/><circle cx="624.1" cy="163.8" r="3.79" fill="url(#gC)"/><circle cx="633.9" cy="159.1" r="3.79" fill="url(#gC)"/><circle cx="632.0" cy="153.9" r="3.45" fill="url(#gC)"/><circle cx="621.8" cy="153.6" r="3.79" fill="url(#gN)"/><circle cx="645.6" cy="159.4" r="4.13" fill="url(#gC)"/><circle cx="654.3" cy="152.4" r="3.79" fill="url(#gN)"/><circle cx="654.8" cy="140.1" r="3.79" fill="url(#gC)"/><circle cx="661.6" cy="138.2" r="4.13" fill="url(#gC)"/><circle cx="662.7" cy="156.5" r="3.79" fill="url(#gC)"/><circle cx="664.1" cy="166.4" r="3.79" fill="url(#gN)"/><circle cx="656.5" cy="176.2" r="3.79" fill="url(#gC)"/><circle cx="606.2" cy="167.4" r="2.28" fill="url(#gH)"/><circle cx="624.7" cy="168.9" r="2.07" fill="url(#gH)"/><circle cx="640.2" cy="150.4" r="2.28" fill="url(#gH)"/><circle cx="648.9" cy="168.2" r="2.28" fill="url(#gH)"/><circle cx="647.5" cy="175.2" r="2.28" fill="url(#gH)"/><circle cx="646.6" cy="137.5" r="2.28" fill="url(#gH)"/><circle cx="662.4" cy="129.5" r="2.28" fill="url(#gH)"/><circle cx="671.4" cy="141.6" r="2.28" fill="url(#gH)"/><circle cx="658.0" cy="144.1" r="1.87" fill="url(#gH)"/><circle cx="669.7" cy="149.9" r="2.28" fill="url(#gH)"/><circle cx="658.7" cy="182.8" r="2.28" fill="url(#gH)"/></g>
<g id="A_IM3"><path d="M396.7,274.0L410.1,270.8M409.3,264.3L419.7,262.3M410.1,270.8L409.3,264.3M419.7,262.3L430.1,265.1M430.1,265.1L429.8,271.6M430.1,265.1L441.7,263.5M429.8,271.6L420.2,274.0M420.2,274.0L410.1,270.8M400.9,261.6L409.3,264.3M419.7,256.8L419.7,262.3M439.0,274.8L429.8,271.6M441.7,263.5L452.3,262.3M444.3,271.6L441.7,263.5M441.4,256.3L441.7,263.5M452.3,262.3L451.3,251.0M452.3,262.3L464.2,266.0M451.3,251.0L448.1,239.5M445.4,254.2L451.3,251.0M460.7,250.4L451.3,251.0M439.0,240.7L448.1,239.5M449.7,232.2L448.1,239.5M454.2,237.5L448.1,239.5M464.2,266.0L471.1,256.8M464.2,266.0L471.1,267.6M464.2,266.0L463.1,276.7M471.1,256.8L471.1,267.6M470.0,248.3L471.1,256.8M478.0,259.2L471.1,256.8M471.1,267.6L463.1,276.7M480.4,272.4L471.1,267.6M463.1,276.7L460.3,287.6M471.1,278.0L463.1,276.7M451.8,286.8L460.3,287.6M467.4,290.8L460.3,287.6M459.1,295.3L460.3,287.6" stroke="#a2a2a2" stroke-width="1.4" fill="none"/><circle cx="396.7" cy="274.0" r="4.17" fill="url(#gL)"/><circle cx="409.3" cy="264.3" r="3.79" fill="url(#gC)"/><circle cx="410.1" cy="270.8" r="3.79" fill="url(#gC)"/><circle cx="419.7" cy="262.3" r="3.79" fill="url(#gC)"/><circle cx="430.1" cy="265.1" r="4.17" fill="url(#gC)"/><circle cx="429.8" cy="271.6" r="3.79" fill="url(#gC)"/><circle cx="420.2" cy="274.0" r="3.79" fill="url(#gN)"/><circle cx="441.7" cy="263.5" r="4.17" fill="url(#gC)"/><circle cx="452.3" cy="262.3" r="4.17" fill="url(#gN)"/><circle cx="451.3" cy="251.0" r="4.17" fill="url(#gC)"/><circle cx="448.1" cy="239.5" r="4.17" fill="url(#gC)"/><circle cx="464.2" cy="266.0" r="4.17" fill="url(#gC)"/><circle cx="471.1" cy="256.8" r="3.79" fill="url(#gC)"/><circle cx="478.0" cy="259.2" r="3.79" fill="url(#gO)"/><circle cx="471.1" cy="267.6" r="3.79" fill="url(#gN)"/><circle cx="480.4" cy="272.4" r="3.79" fill="url(#gO)"/><circle cx="463.1" cy="276.7" r="3.79" fill="url(#gN)"/><circle cx="460.3" cy="287.6" r="4.17" fill="url(#gC)"/><circle cx="400.9" cy="261.6" r="2.51" fill="url(#gH)"/><circle cx="419.7" cy="256.8" r="2.28" fill="url(#gH)"/><circle cx="439.0" cy="274.8" r="2.28" fill="url(#gH)"/><circle cx="444.3" cy="271.6" r="2.28" fill="url(#gH)"/><circle cx="441.4" cy="256.3" r="1.82" fill="url(#gH)"/><circle cx="445.4" cy="254.2" r="2.28" fill="url(#gH)"/><circle cx="460.7" cy="250.4" r="2.28" fill="url(#gH)"/><circle cx="439.0" cy="240.7" r="2.28" fill="url(#gH)"/><circle cx="449.7" cy="232.2" r="2.28" fill="url(#gH)"/><circle cx="454.2" cy="237.5" r="2.28" fill="url(#gH)"/><circle cx="470.0" cy="248.3" r="2.51" fill="url(#gH)"/><circle cx="471.1" cy="278.0" r="2.28" fill="url(#gH)"/><circle cx="451.8" cy="286.8" r="2.28" fill="url(#gH)"/><circle cx="467.4" cy="290.8" r="2.28" fill="url(#gH)"/><circle cx="459.1" cy="295.3" r="2.28" fill="url(#gH)"/></g>
<g id="A_IM4"><path d="M512.7,296.7L521.5,289.0M515.9,284.2L523.6,278.1M521.5,289.0L515.9,284.2M523.6,278.1L535.5,275.9M535.5,275.9L540.3,281.0M535.5,275.9L544.5,270.1M540.3,281.0L533.5,286.6M533.5,286.6L521.5,289.0M506.2,286.6L515.9,284.2M520.4,274.6L523.6,278.1M550.4,279.4L540.3,281.0M544.5,270.1L556.0,266.2M539.6,261.7L544.5,270.1M546.4,275.9L544.5,270.1M556.0,266.2L556.3,253.4M556.0,266.2L568.1,270.1M556.3,253.4L556.8,242.5M548.0,253.4L556.3,253.4M565.3,253.4L556.3,253.4M548.8,243.7L556.8,242.5M557.3,233.6L556.8,242.5M565.7,242.8L556.8,242.5M568.1,270.1L573.4,274.9M568.1,270.1L566.5,279.7M574.5,262.5L581.7,268.1M581.7,268.1L573.4,274.9M573.4,274.9L566.5,279.7M566.5,279.7L564.1,292.2M575.3,279.7L573.4,274.9M555.7,293.0L564.1,292.2M572.1,297.4L564.1,292.2M561.6,298.3L564.1,292.2" stroke="#a2a2a2" stroke-width="1.4" fill="none"/><circle cx="512.7" cy="296.7" r="4.55" fill="url(#gL)"/><circle cx="515.9" cy="284.2" r="4.17" fill="url(#gC)"/><circle cx="521.5" cy="289.0" r="4.17" fill="url(#gC)"/><circle cx="523.6" cy="278.1" r="3.79" fill="url(#gC)"/><circle cx="535.5" cy="275.9" r="4.17" fill="url(#gC)"/><circle cx="540.3" cy="281.0" r="4.17" fill="url(#gC)"/><circle cx="533.5" cy="286.6" r="4.17" fill="url(#gN)"/><circle cx="544.5" cy="270.1" r="4.17" fill="url(#gC)"/><circle cx="556.0" cy="266.2" r="4.17" fill="url(#gN)"/><circle cx="556.3" cy="253.4" r="4.17" fill="url(#gC)"/><circle cx="556.8" cy="242.5" r="4.17" fill="url(#gC)"/><circle cx="568.1" cy="270.1" r="4.17" fill="url(#gC)"/><circle cx="581.7" cy="268.1" r="4.17" fill="url(#gO)"/><circle cx="573.4" cy="274.9" r="3.79" fill="url(#gN)"/><circle cx="566.5" cy="279.7" r="3.79" fill="url(#gN)"/><circle cx="564.1" cy="292.2" r="4.17" fill="url(#gC)"/><circle cx="506.2" cy="286.6" r="2.51" fill="url(#gH)"/><circle cx="520.4" cy="274.6" r="2.28" fill="url(#gH)"/><circle cx="550.4" cy="279.4" r="2.51" fill="url(#gH)"/><circle cx="539.6" cy="261.7" r="2.51" fill="url(#gH)"/><circle cx="546.4" cy="275.9" r="2.05" fill="url(#gH)"/><circle cx="548.0" cy="253.4" r="2.28" fill="url(#gH)"/><circle cx="565.3" cy="253.4" r="2.28" fill="url(#gH)"/><circle cx="548.8" cy="243.7" r="2.28" fill="url(#gH)"/><circle cx="557.3" cy="233.6" r="2.51" fill="url(#gH)"/><circle cx="565.7" cy="242.8" r="2.28" fill="url(#gH)"/><circle cx="574.5" cy="262.5" r="2.51" fill="url(#gH)"/><circle cx="575.3" cy="279.7" r="2.05" fill="url(#gH)"/><circle cx="555.7" cy="293.0" r="2.28" fill="url(#gH)"/><circle cx="572.1" cy="297.4" r="2.28" fill="url(#gH)"/><circle cx="561.6" cy="298.3" r="2.28" fill="url(#gH)"/></g>
<g id="B_NPM"><path d="M83.3,642.9L99.0,641.5M98.6,633.7L110.9,632.7M99.0,641.5L98.6,633.7M110.9,632.7L123.5,638.4M123.5,638.4L122.7,645.4M123.5,638.4L137.4,637.2M122.7,645.4L110.9,647.4M110.9,647.4L99.0,641.5M88.8,630.2L98.6,633.7M111.9,627.0L110.9,632.7M133.4,650.1L122.7,645.4M137.4,637.2L150.3,642.5M139.5,626.6L137.4,637.2M136.4,643.9L137.4,637.2M150.3,642.5L155.8,631.1M150.3,642.5L158.9,653.5M155.8,631.1L164.0,618.8M147.3,627.6L155.8,631.1M163.4,636.8L155.8,631.1M156.9,613.3L164.0,618.8M168.7,610.6L164.0,618.8M174.2,621.5L164.0,618.8M158.9,653.5L173.8,653.1M158.9,653.5L152.4,664.4M173.8,653.1L182.4,663.8M180.0,643.3L173.8,653.1M196.3,661.7L182.4,663.8M178.7,676.0L182.4,663.8M152.4,664.4L138.5,669.5M160.9,671.9L152.4,664.4M131.3,667.0L138.5,669.5M139.5,682.2L138.5,669.5M135.0,667.4L138.5,669.5" stroke="#a2a2a2" stroke-width="1.4" fill="none"/><circle cx="83.3" cy="642.9" r="4.82" fill="url(#gL)"/><circle cx="98.6" cy="633.7" r="4.34" fill="url(#gC)"/><circle cx="99.0" cy="641.5" r="4.34" fill="url(#gC)"/><circle cx="110.9" cy="632.7" r="4.34" fill="url(#gC)"/><circle cx="123.5" cy="638.4" r="4.34" fill="url(#gC)"/><circle cx="122.7" cy="645.4" r="4.34" fill="url(#gC)"/><circle cx="110.9" cy="647.4" r="4.34" fill="url(#gN)"/><circle cx="137.4" cy="637.2" r="4.82" fill="url(#gC)"/><circle cx="150.3" cy="642.5" r="4.82" fill="url(#gN)"/><circle cx="155.8" cy="631.1" r="4.82" fill="url(#gC)"/><circle cx="164.0" cy="618.8" r="5.31" fill="url(#gC)"/><circle cx="158.9" cy="653.5" r="4.82" fill="url(#gC)"/><circle cx="173.8" cy="653.1" r="4.82" fill="url(#gC)"/><circle cx="182.4" cy="663.8" r="4.34" fill="url(#gN)"/><circle cx="196.3" cy="661.7" r="4.34" fill="url(#gO)"/><circle cx="178.7" cy="676.0" r="4.82" fill="url(#gO)"/><circle cx="152.4" cy="664.4" r="4.82" fill="url(#gN)"/><circle cx="138.5" cy="669.5" r="4.82" fill="url(#gC)"/><circle cx="88.8" cy="630.2" r="2.90" fill="url(#gH)"/><circle cx="111.9" cy="627.0" r="2.90" fill="url(#gH)"/><circle cx="133.4" cy="650.1" r="2.90" fill="url(#gH)"/><circle cx="139.5" cy="626.6" r="2.90" fill="url(#gH)"/><circle cx="136.4" cy="643.9" r="2.61" fill="url(#gH)"/><circle cx="147.3" cy="627.6" r="2.90" fill="url(#gH)"/><circle cx="163.4" cy="636.8" r="2.90" fill="url(#gH)"/><circle cx="156.9" cy="613.3" r="2.90" fill="url(#gH)"/><circle cx="168.7" cy="610.6" r="2.90" fill="url(#gH)"/><circle cx="174.2" cy="621.5" r="2.90" fill="url(#gH)"/><circle cx="180.0" cy="643.3" r="2.90" fill="url(#gH)"/><circle cx="160.9" cy="671.9" r="2.90" fill="url(#gH)"/><circle cx="131.3" cy="667.0" r="2.90" fill="url(#gH)"/><circle cx="139.5" cy="682.2" r="2.90" fill="url(#gH)"/><circle cx="135.0" cy="667.4" r="2.32" fill="url(#gH)"/></g>
<g id="B_IM1"><path d="M268.6,624.3L283.0,621.5M282.4,614.9L294.4,611.6M283.0,621.5L282.4,614.9M294.4,611.6L305.8,615.5M305.8,615.5L304.9,622.6M305.8,615.5L318.5,613.4M304.9,622.6L293.8,624.3M293.8,624.3L283.0,621.5M274.3,611.6L282.4,614.9M294.9,606.8L294.4,611.6M313.7,624.7L304.9,622.6M318.5,613.4L329.4,615.3M318.5,603.3L318.5,613.4M318.9,619.3L318.5,613.4M329.4,615.3L332.7,604.6M329.4,615.3L338.6,624.7M332.7,604.6L338.6,593.0M324.0,602.8L332.7,604.6M338.6,609.0L332.7,604.6M332.7,589.3L338.6,593.0M340.8,585.3L338.6,593.0M348.7,595.8L338.6,593.0M338.6,624.7L351.8,623.0M338.6,624.7L334.9,634.6M355.3,614.9L351.8,623.0M359.0,632.4L351.8,623.0M387.9,628.7L378.7,622.1M334.9,634.6L324.0,642.7M343.7,640.5L334.9,634.6M314.6,639.0L324.0,642.7M325.1,652.1L324.0,642.7M319.6,640.5L324.0,642.7" stroke="#a2a2a2" stroke-width="1.4" fill="none"/><path d="M359.0,632.4L378.7,622.1" stroke="#aaa" stroke-width="0.6" fill="none"/><circle cx="268.6" cy="624.3" r="4.65" fill="url(#gL)"/><circle cx="282.4" cy="614.9" r="4.13" fill="url(#gC)"/><circle cx="283.0" cy="621.5" r="3.88" fill="url(#gC)"/><circle cx="294.4" cy="611.6" r="3.88" fill="url(#gC)"/><circle cx="305.8" cy="615.5" r="4.13" fill="url(#gC)"/><circle cx="304.9" cy="622.6" r="3.88" fill="url(#gC)"/><circle cx="293.8" cy="624.3" r="4.13" fill="url(#gN)"/><circle cx="318.5" cy="613.4" r="4.13" fill="url(#gC)"/><circle cx="329.4" cy="615.3" r="4.13" fill="url(#gN)"/><circle cx="332.7" cy="604.6" r="4.13" fill="url(#gC)"/><circle cx="338.6" cy="593.0" r="4.39" fill="url(#gC)"/><circle cx="338.6" cy="624.7" r="4.13" fill="url(#gC)"/><circle cx="351.8" cy="623.0" r="4.13" fill="url(#gC)"/><circle cx="359.0" cy="632.4" r="4.39" fill="url(#gO)"/><circle cx="378.7" cy="622.1" r="3.88" fill="url(#gN)"/><circle cx="387.9" cy="628.7" r="4.13" fill="url(#gO)"/><circle cx="334.9" cy="634.6" r="4.13" fill="url(#gN)"/><circle cx="324.0" cy="642.7" r="4.13" fill="url(#gC)"/><circle cx="274.3" cy="611.6" r="2.49" fill="url(#gH)"/><circle cx="294.9" cy="606.8" r="2.49" fill="url(#gH)"/><circle cx="313.7" cy="624.7" r="2.49" fill="url(#gH)"/><circle cx="318.5" cy="603.3" r="2.49" fill="url(#gH)"/><circle cx="318.9" cy="619.3" r="2.18" fill="url(#gH)"/><circle cx="324.0" cy="602.8" r="2.49" fill="url(#gH)"/><circle cx="338.6" cy="609.0" r="2.49" fill="url(#gH)"/><circle cx="332.7" cy="589.3" r="2.49" fill="url(#gH)"/><circle cx="340.8" cy="585.3" r="2.49" fill="url(#gH)"/><circle cx="348.7" cy="595.8" r="2.49" fill="url(#gH)"/><circle cx="355.3" cy="614.9" r="2.49" fill="url(#gH)"/><circle cx="343.7" cy="640.5" r="2.49" fill="url(#gH)"/><circle cx="314.6" cy="639.0" r="2.49" fill="url(#gH)"/><circle cx="325.1" cy="652.1" r="2.49" fill="url(#gH)"/><circle cx="319.6" cy="640.5" r="2.18" fill="url(#gH)"/></g>
<g id="B_IM5"><path d="M434.9,453.6L444.4,449.7M442.7,445.1L450.6,442.1M444.4,449.7L442.7,445.1M450.6,442.1L459.4,443.1M459.4,443.1L460.2,447.3M459.4,443.1L468.1,439.2M460.2,447.3L452.6,449.9M452.6,449.9L444.4,449.7M436.8,444.4L442.7,445.1M450.6,438.9L450.6,442.1M467.0,448.4L460.2,447.3M468.1,439.2L476.2,437.8M468.1,439.2L476.5,429.7M471.0,444.2L468.1,439.2M466.8,433.2L468.1,439.2M476.2,437.8L476.5,429.7M476.2,437.8L485.2,442.1M476.5,429.7L478.2,420.5M470.3,430.0L476.5,429.7M482.5,431.0L476.5,429.7M472.6,419.7L478.2,420.5M478.9,414.5L478.2,420.5M485.4,420.8L478.2,420.5M485.2,442.1L493.6,437.8M485.2,442.1L484.1,450.7M496.6,432.3L493.6,437.8M484.1,450.7L480.2,458.9M491.7,452.6L484.1,450.7M472.6,457.8L480.2,458.9M481.8,465.4L480.2,458.9M477.6,457.6L480.2,458.9" stroke="#a2a2a2" stroke-width="1.4" fill="none"/><circle cx="434.9" cy="453.6" r="3.72" fill="url(#gL)"/><circle cx="442.7" cy="445.1" r="3.10" fill="url(#gC)"/><circle cx="444.4" cy="449.7" r="3.10" fill="url(#gC)"/><circle cx="450.6" cy="442.1" r="3.10" fill="url(#gC)"/><circle cx="459.4" cy="443.1" r="3.41" fill="url(#gC)"/><circle cx="460.2" cy="447.3" r="3.10" fill="url(#gC)"/><circle cx="452.6" cy="449.9" r="3.41" fill="url(#gN)"/><circle cx="468.1" cy="439.2" r="3.72" fill="url(#gC)"/><circle cx="476.2" cy="437.8" r="3.41" fill="url(#gN)"/><circle cx="476.5" cy="429.7" r="3.41" fill="url(#gC)"/><circle cx="478.2" cy="420.5" r="3.72" fill="url(#gC)"/><circle cx="485.2" cy="442.1" r="3.41" fill="url(#gC)"/><circle cx="493.6" cy="437.8" r="3.41" fill="url(#gC)"/><circle cx="484.1" cy="450.7" r="3.41" fill="url(#gN)"/><circle cx="480.2" cy="458.9" r="3.41" fill="url(#gC)"/><circle cx="436.8" cy="444.4" r="1.87" fill="url(#gH)"/><circle cx="450.6" cy="438.9" r="1.87" fill="url(#gH)"/><circle cx="467.0" cy="448.4" r="1.87" fill="url(#gH)"/><circle cx="471.0" cy="444.2" r="1.87" fill="url(#gH)"/><circle cx="466.8" cy="433.2" r="1.68" fill="url(#gH)"/><circle cx="470.3" cy="430.0" r="1.87" fill="url(#gH)"/><circle cx="482.5" cy="431.0" r="1.87" fill="url(#gH)"/><circle cx="472.6" cy="419.7" r="1.87" fill="url(#gH)"/><circle cx="478.9" cy="414.5" r="1.87" fill="url(#gH)"/><circle cx="485.4" cy="420.8" r="1.87" fill="url(#gH)"/><circle cx="496.6" cy="432.3" r="1.87" fill="url(#gH)"/><circle cx="491.7" cy="452.6" r="1.87" fill="url(#gH)"/><circle cx="472.6" cy="457.8" r="1.87" fill="url(#gH)"/><circle cx="481.8" cy="465.4" r="1.87" fill="url(#gH)"/><circle cx="477.6" cy="457.6" r="1.49" fill="url(#gH)"/></g>
<g id="B_IM2"><path d="M404.9,648.7L421.2,645.9M420.6,639.0L433.9,635.8M421.2,645.9L420.6,639.0M433.9,635.8L445.9,640.2M445.9,640.2L445.3,646.2M445.9,640.2L461.0,636.4M445.3,646.2L433.0,648.1M433.0,648.1L421.2,645.9M412.1,635.8L420.6,639.0M435.2,631.1L433.9,635.8M455.4,647.8L445.3,646.2M461.0,636.4L472.4,638.3M462.9,644.0L461.0,636.4M461.0,628.2L461.0,636.4M472.4,638.3L475.7,625.7M472.4,638.3L483.3,648.1M475.7,625.7L482.3,613.0M466.2,623.1L475.7,625.7M482.3,629.2L475.7,625.7M476.2,609.2L482.3,613.0M484.2,604.1L482.3,613.0M493.3,615.5L482.3,613.0M483.3,648.1L497.5,646.2M483.3,648.1L479.5,660.5M501.7,636.4L497.5,646.2M506.6,656.1L497.5,646.2M479.5,660.5L468.1,669.4M488.9,666.2L479.5,660.5M458.0,665.6L468.1,669.4M469.4,680.0L468.1,669.4M463.3,667.5L468.1,669.4" stroke="#a2a2a2" stroke-width="1.4" fill="none"/><circle cx="404.9" cy="648.7" r="4.93" fill="url(#gL)"/><circle cx="420.6" cy="639.0" r="4.48" fill="url(#gC)"/><circle cx="421.2" cy="645.9" r="4.48" fill="url(#gC)"/><circle cx="433.9" cy="635.8" r="4.48" fill="url(#gC)"/><circle cx="445.9" cy="640.2" r="4.93" fill="url(#gC)"/><circle cx="445.3" cy="646.2" r="4.48" fill="url(#gC)"/><circle cx="433.0" cy="648.1" r="4.93" fill="url(#gN)"/><circle cx="461.0" cy="636.4" r="4.93" fill="url(#gC)"/><circle cx="472.4" cy="638.3" r="4.93" fill="url(#gN)"/><circle cx="475.7" cy="625.7" r="4.93" fill="url(#gC)"/><circle cx="482.3" cy="613.0" r="5.37" fill="url(#gC)"/><circle cx="483.3" cy="648.1" r="4.93" fill="url(#gC)"/><circle cx="497.5" cy="646.2" r="4.93" fill="url(#gC)"/><circle cx="506.6" cy="656.1" r="4.93" fill="url(#gO)"/><circle cx="479.5" cy="660.5" r="4.93" fill="url(#gN)"/><circle cx="468.1" cy="669.4" r="4.93" fill="url(#gC)"/><circle cx="412.1" cy="635.8" r="2.70" fill="url(#gH)"/><circle cx="435.2" cy="631.1" r="2.70" fill="url(#gH)"/><circle cx="455.4" cy="647.8" r="2.70" fill="url(#gH)"/><circle cx="462.9" cy="644.0" r="2.70" fill="url(#gH)"/><circle cx="461.0" cy="628.2" r="2.43" fill="url(#gH)"/><circle cx="466.2" cy="623.1" r="2.70" fill="url(#gH)"/><circle cx="482.3" cy="629.2" r="2.70" fill="url(#gH)"/><circle cx="476.2" cy="609.2" r="2.70" fill="url(#gH)"/><circle cx="484.2" cy="604.1" r="2.70" fill="url(#gH)"/><circle cx="493.3" cy="615.5" r="2.70" fill="url(#gH)"/><circle cx="501.7" cy="636.4" r="2.70" fill="url(#gH)"/><circle cx="488.9" cy="666.2" r="2.70" fill="url(#gH)"/><circle cx="458.0" cy="665.6" r="2.70" fill="url(#gH)"/><circle cx="469.4" cy="680.0" r="2.70" fill="url(#gH)"/><circle cx="463.3" cy="667.5" r="2.16" fill="url(#gH)"/></g>
<g id="B_C"><path d="M571.9,511.0L588.3,513.2M588.3,513.2L599.2,509.7M587.4,519.2L588.3,513.2M601.1,521.1L587.4,519.2M612.0,512.5L613.3,518.3M613.3,518.3L601.1,521.1M613.3,518.3L626.6,519.8M599.2,509.7L612.0,512.5M578.8,522.3L587.4,519.2M601.6,526.0L601.1,521.1M621.7,508.8L612.0,512.5M626.6,519.8L638.5,513.8M627.9,514.7L626.6,519.8M629.0,531.5L626.6,519.8M638.5,513.8L642.1,499.2M638.5,513.8L646.7,521.6M642.1,499.2L650.3,497.3M633.0,493.7L642.1,499.2M653.4,487.3L650.3,497.3M647.2,502.8L642.1,499.2M648.0,494.2L650.3,497.3M646.7,521.6L658.5,513.8M646.7,521.6L644.9,533.8M661.3,503.4L658.5,513.8M666.8,509.6L658.5,513.8M656.7,504.6L658.5,513.8M666.2,522.9L658.5,513.8M661.3,532.6L666.2,522.9M644.9,533.8L634.5,543.9M624.2,540.2L634.5,543.9M635.7,553.0L634.5,543.9M638.5,549.3L634.5,543.9" stroke="#a2a2a2" stroke-width="1.4" fill="none"/><circle cx="571.9" cy="511.0" r="5.17" fill="url(#gL)"/><circle cx="588.3" cy="513.2" r="4.74" fill="url(#gC)"/><circle cx="587.4" cy="519.2" r="4.31" fill="url(#gC)"/><circle cx="601.1" cy="521.1" r="4.74" fill="url(#gC)"/><circle cx="612.0" cy="512.5" r="4.74" fill="url(#gC)"/><circle cx="613.3" cy="518.3" r="4.31" fill="url(#gC)"/><circle cx="599.2" cy="509.7" r="4.74" fill="url(#gN)"/><circle cx="626.6" cy="519.8" r="5.17" fill="url(#gC)"/><circle cx="638.5" cy="513.8" r="4.74" fill="url(#gN)"/><circle cx="642.1" cy="499.2" r="4.74" fill="url(#gC)"/><circle cx="650.3" cy="497.3" r="5.17" fill="url(#gC)"/><circle cx="646.7" cy="521.6" r="4.74" fill="url(#gC)"/><circle cx="658.5" cy="513.8" r="4.74" fill="url(#gC)"/><circle cx="666.2" cy="522.9" r="4.74" fill="url(#gO)"/><circle cx="644.9" cy="533.8" r="4.74" fill="url(#gN)"/><circle cx="634.5" cy="543.9" r="4.74" fill="url(#gC)"/><circle cx="578.8" cy="522.3" r="2.85" fill="url(#gH)"/><circle cx="601.6" cy="526.0" r="2.59" fill="url(#gH)"/><circle cx="621.7" cy="508.8" r="2.59" fill="url(#gH)"/><circle cx="627.9" cy="514.7" r="2.33" fill="url(#gH)"/><circle cx="629.0" cy="531.5" r="2.85" fill="url(#gH)"/><circle cx="633.0" cy="493.7" r="2.85" fill="url(#gH)"/><circle cx="653.4" cy="487.3" r="2.85" fill="url(#gH)"/><circle cx="647.2" cy="502.8" r="2.59" fill="url(#gH)"/><circle cx="648.0" cy="494.2" r="2.33" fill="url(#gH)"/><circle cx="661.3" cy="503.4" r="2.85" fill="url(#gH)"/><circle cx="666.8" cy="509.6" r="2.59" fill="url(#gH)"/><circle cx="656.7" cy="504.6" r="2.33" fill="url(#gH)"/><circle cx="661.3" cy="532.6" r="2.85" fill="url(#gH)"/><circle cx="624.2" cy="540.2" r="2.59" fill="url(#gH)"/><circle cx="635.7" cy="553.0" r="2.85" fill="url(#gH)"/><circle cx="638.5" cy="549.3" r="2.33" fill="url(#gH)"/></g>
<g id="B_B"><path d="M538.6,651.3L558.9,649.6M558.9,649.6L570.5,643.6M562.2,655.7L558.9,649.6M578.6,653.9L562.2,655.7M590.3,647.4L578.6,653.9M590.3,647.4L608.2,647.4M585.2,642.6L590.3,647.4M570.5,643.6L585.2,642.6M552.4,660.1L562.2,655.7M581.5,659.0L578.6,653.9M596.2,638.2L590.3,647.4M608.2,647.4L619.2,637.1M613.7,660.1L621.8,669.9M609.3,666.2L621.8,669.9M619.2,637.1L617.0,618.9M619.2,637.1L631.6,642.6M617.0,618.9L621.3,611.9M603.4,617.4L617.0,618.9M619.6,599.2L621.3,611.9M635.6,613.0L621.3,611.9M631.6,642.6L647.2,632.0M631.6,642.6L633.4,656.8M655.3,637.1L647.2,632.0M651.6,620.2L647.2,632.0M633.4,656.8L621.8,669.9M623.1,678.7L621.8,669.9M612.6,664.4L621.8,669.9" stroke="#a2a2a2" stroke-width="1.4" fill="none"/><circle cx="538.6" cy="651.3" r="6.20" fill="url(#gL)"/><circle cx="558.9" cy="649.6" r="5.68" fill="url(#gC)"/><circle cx="562.2" cy="655.7" r="5.17" fill="url(#gC)"/><circle cx="578.6" cy="653.9" r="5.68" fill="url(#gC)"/><circle cx="590.3" cy="647.4" r="5.68" fill="url(#gC)"/><circle cx="585.2" cy="642.6" r="5.17" fill="url(#gC)"/><circle cx="570.5" cy="643.6" r="5.68" fill="url(#gN)"/><circle cx="608.2" cy="647.4" r="6.20" fill="url(#gC)"/><circle cx="619.2" cy="637.1" r="5.68" fill="url(#gN)"/><circle cx="617.0" cy="618.9" r="5.68" fill="url(#gC)"/><circle cx="621.3" cy="611.9" r="5.68" fill="url(#gC)"/><circle cx="631.6" cy="642.6" r="5.68" fill="url(#gC)"/><circle cx="647.2" cy="632.0" r="5.68" fill="url(#gC)"/><circle cx="651.6" cy="620.2" r="5.68" fill="url(#gO)"/><circle cx="633.4" cy="656.8" r="5.68" fill="url(#gN)"/><circle cx="621.8" cy="669.9" r="5.68" fill="url(#gC)"/><circle cx="552.4" cy="660.1" r="3.42" fill="url(#gH)"/><circle cx="581.5" cy="659.0" r="2.80" fill="url(#gH)"/><circle cx="596.2" cy="638.2" r="3.42" fill="url(#gH)"/><circle cx="613.7" cy="660.1" r="3.42" fill="url(#gH)"/><circle cx="609.3" cy="666.2" r="3.42" fill="url(#gH)"/><circle cx="603.4" cy="617.4" r="3.42" fill="url(#gH)"/><circle cx="619.6" cy="599.2" r="3.42" fill="url(#gH)"/><circle cx="635.6" cy="613.0" r="3.42" fill="url(#gH)"/><circle cx="655.3" cy="637.1" r="3.42" fill="url(#gH)"/><circle cx="623.1" cy="678.7" r="3.42" fill="url(#gH)"/><circle cx="612.6" cy="664.4" r="2.49" fill="url(#gH)"/></g>
</g>
</svg>
</body></html>
